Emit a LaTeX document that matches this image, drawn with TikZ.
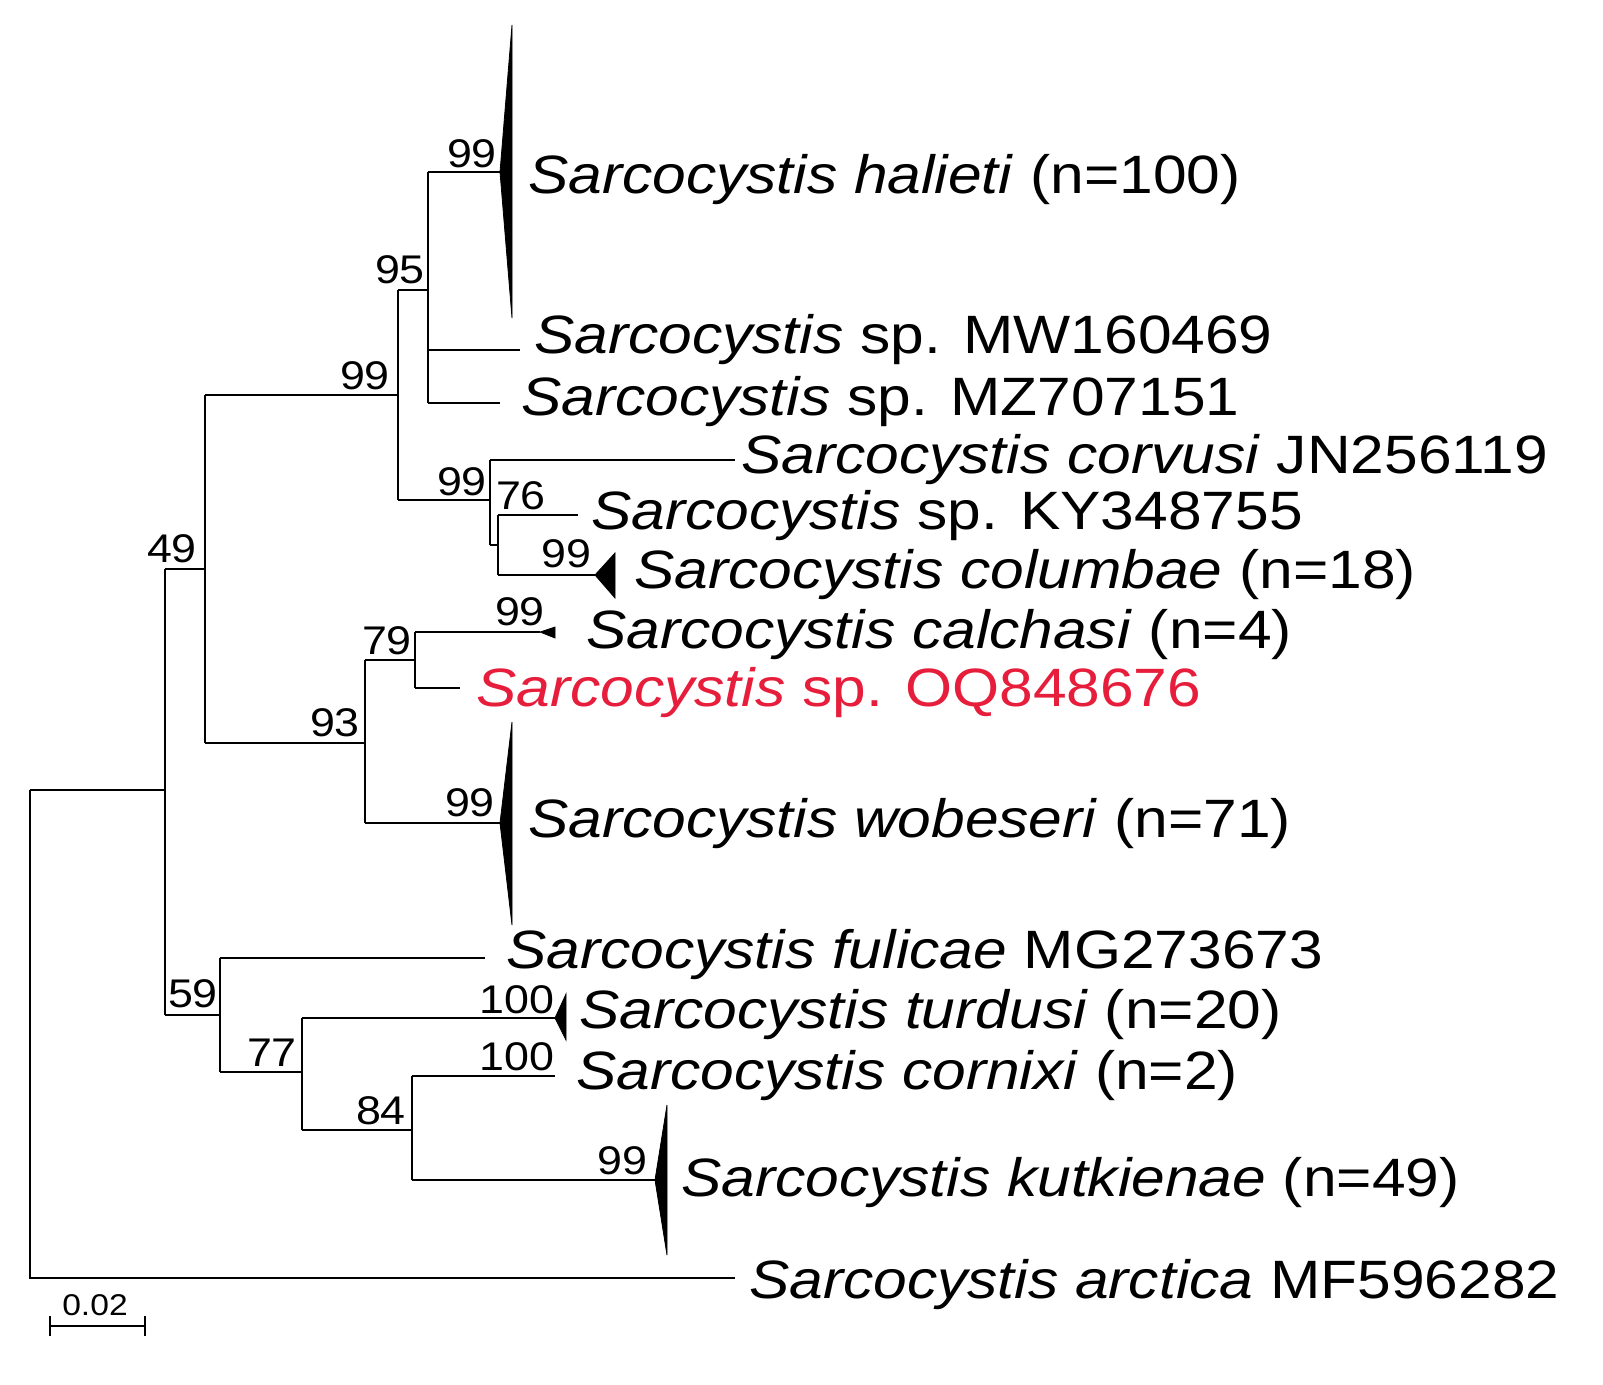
\documentclass[tikz,border=0pt]{standalone}
\usepackage{fontspec}
\setmainfont[FakeStretch=1.12]{Liberation Sans}
\begin{document}
\begin{tikzpicture}[x=1pt,y=-1pt,line width=2.5pt,
 tx/.style={anchor=west,inner sep=0pt,font=\fontsize{54}{58}\selectfont},
 bs/.style={anchor=south,inner sep=1pt,font=\fontsize{40}{44}\selectfont},
 tri/.style={fill=black,draw=black,line width=0.8pt}]
\useasboundingbox (0,0) rectangle (1603,1384);
\coordinate (r) at (30,790);
\coordinate (n49) at (165,790);
\draw (30,790) |- (735,1278);
\draw (30,790) -- (165,790);
\draw (165,569) -- (165,1015);
\draw (165,569) -- (205,569);
\draw (205,395) -- (205,743);
\draw (205,395) -- (398,395);
\draw (398,290) -- (398,500);
\draw (398,290) -- (428,290);
\draw (428,172) -- (428,403);
\draw (428,172) -- (500,172);
\filldraw[tri] (500,172) -- (512,25) -- (512,318) -- cycle;
\draw (428,350) -- (520,350);
\draw (428,403) -- (500,403);
\draw (398,500) -- (490,500);
\draw (490,460) -- (490,545);
\draw (490,460) -- (735,460);
\draw (490,545) -- (498,545);
\draw (498,515) -- (498,575);
\draw (498,515) -- (578,515);
\draw (498,575) -- (595,575);
\filldraw[tri] (595,575) -- (615,553) -- (615,598) -- cycle;
\draw (205,743) -- (365,743);
\draw (365,660) -- (365,823);
\draw (365,660) -- (415,660);
\draw (415,632) -- (415,688);
\draw (415,632) -- (540,632);
\filldraw[tri] (540,632) -- (555,627) -- (555,638) -- cycle;
\draw (415,688) -- (460,688);
\draw (365,823) -- (500,823);
\filldraw[tri] (500,823) -- (512,722) -- (512,925) -- cycle;
\draw (165,1015) -- (220,1015);
\draw (220,958) -- (220,1072);
\draw (220,958) -- (485,958);
\draw (220,1072) -- (302,1072);
\draw (302,1018) -- (302,1130);
\draw (302,1018) -- (555,1018);
\filldraw[tri] (555,1018) -- (566,994) -- (566,1040) -- cycle;
\draw (302,1130) -- (412,1130);
\draw (412,1076) -- (412,1180);
\draw (412,1076) -- (555,1076);
\draw (412,1180) -- (655,1180);
\filldraw[tri] (655,1180) -- (667,1105) -- (667,1255) -- cycle;
\draw[line width=1.8pt] (50,1326) -- (145,1326);
\draw[line width=1.8pt] (50,1316) -- (50,1336) (145,1316) -- (145,1336);
\node[bs,font=\fontsize{30}{32}\selectfont] (sc) at (95,1318) {0.02};
\node[bs] (b1) at (472,170) {99};
\node[bs] (b2) at (400,286) {95};
\node[bs] (b3) at (365,392) {99};
\node[bs] (b4) at (172,565) {49};
\node[bs] (b5) at (462,498) {99};
\node[bs] (b6) at (521,512) {76};
\node[bs] (b7) at (566,570) {99};
\node[bs] (b8) at (520,628) {99};
\node[bs] (b9) at (387,657) {79};
\node[bs] (b10) at (335,739) {93};
\node[bs] (b11) at (470,819) {99};
\node[bs] (b12) at (193,1010) {59};
\node[bs] (b13) at (517,1016) {100};
\node[bs] (b14) at (272,1069) {77};
\node[bs] (b15) at (517,1073) {100};
\node[bs] (b16) at (381,1127) {84};
\node[bs] (b17) at (622,1177) {99};
\node[tx] (t1) at (527,180) {\textit{Sarcocystis halieti} (n=100)};
\node[tx] (t2) at (533,340) {\textit{Sarcocystis} sp. MW160469};
\node[tx] (t3) at (520,402) {\textit{Sarcocystis} sp. MZ707151};
\node[tx] (t4) at (740,460) {\textit{Sarcocystis corvusi} JN256119};
\node[tx] (t5) at (590,516) {\textit{Sarcocystis} sp. KY348755};
\node[tx] (t6) at (633,575) {\textit{Sarcocystis columbae} (n=18)};
\node[tx] (t7) at (585,635) {\textit{Sarcocystis calchasi} (n=4)};
\node[tx,text={rgb,255:red,230;green,30;blue,60}] (t8) at (475,693) {\textit{Sarcocystis} sp. OQ848676};
\node[tx] (t9) at (527,824) {\textit{Sarcocystis wobeseri} (n=71)};
\node[tx] (t10) at (505,955) {\textit{Sarcocystis fulicae} MG273673};
\node[tx] (t11) at (578,1015) {\textit{Sarcocystis turdusi} (n=20)};
\node[tx] (t12) at (575,1076) {\textit{Sarcocystis cornixi} (n=2)};
\node[tx] (t13) at (680,1183) {\textit{Sarcocystis kutkienae} (n=49)};
\node[tx] (t14) at (748,1285) {\textit{Sarcocystis arctica} MF596282};
\end{tikzpicture}
\end{document}
